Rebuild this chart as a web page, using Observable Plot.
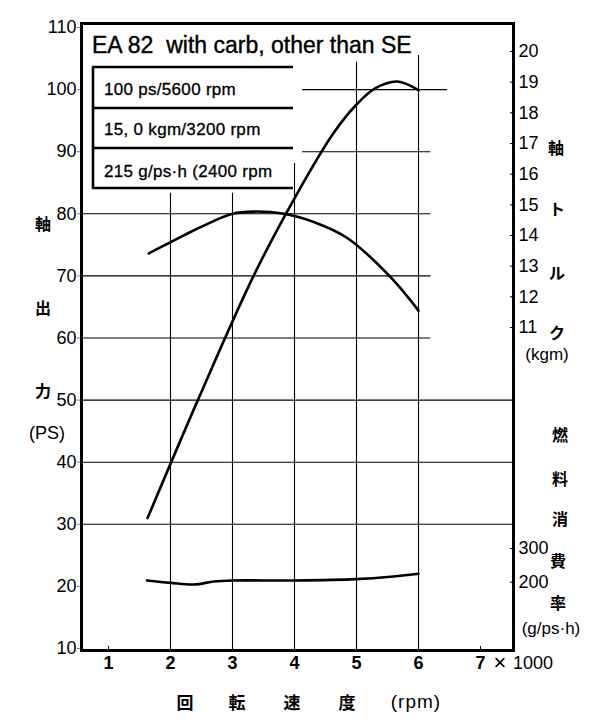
<!DOCTYPE html>
<html><head><meta charset="utf-8">
<script src="https://cdn.jsdelivr.net/npm/d3@7"></script>
<script src="https://cdn.jsdelivr.net/npm/@observablehq/plot@0.6"></script>
<style>
body{margin:0;background:#fff}
#chart{position:relative;width:600px;height:721px}
</style></head><body><div id="chart"></div>
<script>
// ---- data ----
const powerRpm = [1.63, 2.45, 3.34, 4.0, 4.63, 5.0, 5.3, 5.66, 6.0];
const powerPS  = [31, 50.2, 70, 82.5, 93, 97.6, 100.2, 101.3, 99.9];

const torqueRpm = [1.65, 2.0, 2.48, 3.0, 3.34, 3.83, 4.31, 4.85, 5.55, 6.0];
const torqueKgm = [13.42, 13.78, 14.27, 14.71, 14.78, 14.71, 14.44, 13.92, 12.64, 11.55];

const fuelRpm = [1.62, 2.0, 2.38, 2.7, 3.0, 4.0, 5.0, 5.55, 6.0];
const fuelG   = [205, 198, 193, 202, 205, 205, 209, 216, 225];

const rpmTicks = [1, 2, 3, 4, 5, 6, 7];
const psTicks = [10, 20, 30, 40, 50, 60, 70, 80, 90, 100, 110];
const torqueTicks = [11, 12, 13, 14, 15, 16, 17, 18, 19, 20];
const fuelTicks = [200, 300];

// grid lines (value, extent) as drawn in the reference
const hGridPS   = [100, 90, 80, 70, 60, 50, 40, 30];
const hGridFrom = [4.13, 4.13, null, null, null, null, null, null];
const hGridTo   = [6.47, 6.2, 6.2, 6.2, 6.2, null, null, null];
const vGridRpm  = [2, 3, 4, 5, 6];
const vGridTop  = [83.3, 83.3, 88.1, 104.4, 105.5];

const specLines = ["100 ps/5600 rpm", "15, 0 kgm/3200 rpm", "215 g/ps\u00b7h (2400 rpm"];
const titleText = "EA 82  with carb, other than SE";

// ---- secondary axes mapped onto the PS scale ----
const torqueToPS = d3.scaleLinear().domain([11, 20]).range([61.69, 106.135]);
const fuelToPS = d3.scaleLinear().domain([200, 300]).range([20.68, 26.1]);

const xMin = 0.5645, xMax = 7.532, yMin = 9.678, yMax = 110.644;

const power = powerRpm.map((r, i) => ({rpm: r, v: powerPS[i]}));
const torque = torqueRpm.map((r, i) => ({rpm: r, v: torqueToPS(torqueKgm[i])}));
const fuel = fuelRpm.map((r, i) => ({rpm: r, v: fuelToPS(fuelG[i])}));
const hGrid = hGridPS.map((y, i) => ({y, x1: hGridFrom[i] ?? xMin, x2: hGridTo[i] ?? xMax}));
const vGrid = vGridRpm.map((x, i) => ({x, top: vGridTop[i]}));

const FONT = "'Liberation Sans', Arial, sans-serif";
const CJK = "'Noto Sans CJK JP', sans-serif";

const plot = Plot.plot({
  width: 600, height: 721,
  marginTop: 23, marginBottom: 71, marginLeft: 81, marginRight: 87,
  x: {domain: [xMin, xMax], axis: null},
  y: {domain: [yMin, yMax], axis: null},
  style: {fontFamily: FONT, background: "white", color: "black"},
  marks: [
    Plot.ruleY(hGrid, {y: "y", x1: "x1", x2: "x2", stroke: "black", strokeWidth: 1.1}),
    Plot.ruleX(vGrid, {x: "x", y1: yMin, y2: "top", stroke: "black", strokeWidth: 1.1}),
    Plot.line(power, {x: "rpm", y: "v", curve: "catmull-rom", stroke: "black", strokeWidth: 2.6}),
    Plot.line(torque, {x: "rpm", y: "v", curve: "catmull-rom", stroke: "black", strokeWidth: 2.6}),
    Plot.line(fuel, {x: "rpm", y: "v", curve: "catmull-rom", stroke: "black", strokeWidth: 2.6}),
    Plot.frame({stroke: "black", strokeWidth: 3}),
    Plot.axisY({anchor: "left", ticks: psTicks, tickSize: 4, tickPadding: 1, fontSize: 18,
      stroke: "black", strokeWidth: 0.5}),
    Plot.axisY({anchor: "right", ticks: torqueTicks.map(torqueToPS), tickFormat: v => d3.format(".0f")(torqueToPS.invert(v)),
      tickSize: 4, insetRight: 4, tickPadding: 5, fontSize: 18, textAnchor: "start"}),
    Plot.axisY({anchor: "right", ticks: fuelTicks.map(fuelToPS), tickFormat: v => d3.format(".0f")(fuelToPS.invert(v)),
      tickSize: 4, insetRight: 4, tickPadding: 5, fontSize: 18, textAnchor: "start"}),
    Plot.axisX({anchor: "bottom", ticks: rpmTicks, tickFormat: d => d, tickSize: 4, insetBottom: 4, tickPadding: 6,
      fontSize: 18, fontWeight: "bold"})
  ]
});
document.getElementById("chart").appendChild(plot);

// ---- annotations: legend box, axis titles ----
const svg = d3.select(plot);
const g = svg.append("g").attr("fill", "black").attr("text-anchor", "start");
g.append("text").attr("x", 92).attr("y", 53).attr("text-anchor", "start").attr("font-family", FONT).attr("font-size", 23)
  .attr("stroke", "black").attr("stroke-width", 0.4)
  .style("white-space", "pre").attr("xml:space", "preserve").text(titleText);
const boxY = [67, 108, 148, 188];
boxY.forEach(y => g.append("line").attr("x1", 92).attr("x2", 293).attr("y1", y).attr("y2", y)
  .attr("stroke", "black").attr("stroke-width", 2.6));
g.append("line").attr("x1", 93).attr("x2", 93).attr("y1", 66).attr("y2", 189).attr("stroke", "black").attr("stroke-width", 2.6);
const rowBase = [95, 135, 177];
specLines.forEach((t, i) => g.append("text").attr("x", 104).attr("y", rowBase[i]).attr("text-anchor", "start")
  .attr("font-family", FONT).attr("font-size", 17).attr("letter-spacing", "0.3")
  .attr("stroke", "black").attr("stroke-width", 0.3).text(t));

function lab(t, x, y, opts = {}) {
  g.append("text").attr("x", x).attr("y", y).attr("text-anchor", opts.anchor || "middle")
    .attr("dominant-baseline", "central")
    .attr("font-family", opts.font || CJK).attr("font-weight", opts.weight || "bold")
    .attr("font-size", opts.size || 16).attr("letter-spacing", opts.ls || 0).text(t);
}
// left
lab("軸", 43, 223); lab("出", 43, 307); lab("力", 43, 390);
lab("(PS)", 47, 433, {font: FONT, weight: "normal", size: 18});
// right torque
lab("軸", 556, 147); lab("ト", 557, 208); lab("ル", 557, 272); lab("ク", 557, 332);
lab("(kgm)", 547, 354, {font: FONT, weight: "normal", size: 17});
// right fuel
lab("燃", 560, 434); lab("料", 560, 478); lab("消", 560, 518); lab("費", 558, 560); lab("率", 558, 602);
lab("(g/ps\u00b7h)", 551, 628, {font: FONT, weight: "normal", size: 17});
// x axis
lab("\u00d7", 500, 662, {font: FONT, weight: "normal", size: 22});
lab("1000", 513, 663, {font: FONT, weight: "normal", size: 18, anchor: "start"});
lab("回", 185, 701, {size: 17}); lab("転", 237, 701, {size: 17}); lab("速", 292, 701, {size: 17}); lab("度", 347, 701, {size: 17});
lab("(rpm)", 416, 701, {font: FONT, weight: "normal", size: 19, ls: 1});
</script></body></html>
